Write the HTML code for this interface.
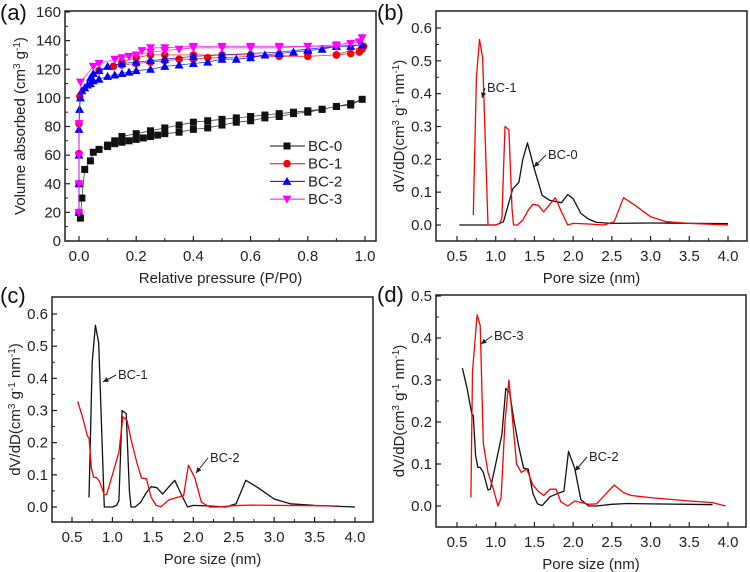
<!DOCTYPE html>
<html><head><meta charset="utf-8"><style>
body{margin:0;background:#fff}
svg{display:block;font-family:"Liberation Sans",sans-serif}
</style></head><body>
<svg id="c" width="750" height="572"></svg>
<script>
// ---- Panel (a) isotherm data ----
const bc0x=[0.005,0.01,0.02,0.04,0.05,0.07,0.1,0.125,0.15,0.175,0.2,0.225,0.25,0.275,0.3,0.35,0.4,0.45,0.5,0.55,0.6,0.65,0.7,0.75,0.8,0.85,0.9,0.95,0.99,0.95,0.9,0.85,0.8,0.75,0.7,0.65,0.6,0.55,0.5,0.45,0.4,0.35,0.3,0.25,0.2,0.15,0.125,0.1];
const bc0y=[16,30,50,56,62,64,66,68,69,70,71,72,73,74,75,76,78,79,81,83,84,86,87,89,90,92,94,96,99,95,94,92,91,90,89,88,87,86,85,84,83,81,79,77,75,73,70,67];
const bc1x=[0,0,0,0,0.003,0.07,0.12,0.15,0.2,0.25,0.3,0.35,0.4,0.45,0.5,0.6,0.7,0.8,0.9,0.95,0.98,0.99,0.995,0.9,0.8,0.7,0.6,0.5,0.4,0.3,0.25,0.2,0.15,0.12];
const bc1y=[20,40,61,82,101,119,122,123,124,125,126,127,127,128,128,129,129,129,130,131,132,134,136,130,129,129.5,130,130,130,130,130,128,125,122];
const bc2x=[0,0,0,0,0.002,0.005,0.01,0.02,0.03,0.04,0.05,0.07,0.1,0.125,0.15,0.175,0.2,0.25,0.3,0.35,0.4,0.45,0.5,0.55,0.6,0.65,0.7,0.75,0.8,0.85,0.9,0.95,0.99,0.9,0.8,0.7,0.6,0.5,0.4,0.3,0.25,0.2,0.15,0.1,0.07,0.05,0.04];
const bc2y=[20,40,60,78,92,100,105,107,109,110,112,113,115,116,117,118,119,120,122,123,124,125,127,127,128,130,131,132,133,134,136,136,137,136,134,132,131,130,129,127,126,125,124,122,119,117,114];
const bc3x=[0,0,0,0,0.005,0.05,0.07,0.125,0.15,0.175,0.2,0.25,0.3,0.35,0.4,0.5,0.6,0.7,0.8,0.9,0.95,0.98,0.99,0.9,0.8,0.7,0.6,0.5,0.4,0.3,0.25,0.22];
const bc3y=[20,40,60,82,111,122,124,127,128,129,130,132,133,134,135,135,135,135,136,137,138,139,142,136,136,136,136,136,136,135,135,133];
const aYTicks=[0,20,40,60,80,100,120,140,160];
const aXTicks=[0.0,0.2,0.4,0.6,0.8,1.0];
// ---- Pore size distributions ----
const pBC0x=[0.53,1.0,1.1,1.22,1.3,1.35,1.41,1.5,1.6,1.7,1.85,1.93,2.0,2.1,2.2,2.3,2.5,3.0,4.0];
const pBC0y=[0,0,0.01,0.11,0.13,0.2,0.25,0.17,0.09,0.075,0.068,0.093,0.08,0.035,0.018,0.008,0.005,0.006,0.004];
const pBC1x=[0.71,0.75,0.79,0.83,0.9,1.0,1.05,1.08,1.12,1.17,1.21,1.23,1.28,1.35,1.42,1.48,1.55,1.62,1.7,1.77,1.85,1.93,2.0,2.2,2.4,2.53,2.65,2.8,3.0,3.2,3.5,4.0];
const pBC1y=[0.03,0.45,0.565,0.51,0,0,0.005,0.02,0.3,0.29,0.05,0,0,0.015,0.045,0.063,0.06,0.04,0.063,0.083,0.04,0,0.005,0.003,0,0.01,0.083,0.06,0.025,0.01,0.005,0];
const pBC2x=[0.57,0.63,0.69,0.71,0.74,0.77,0.8,0.84,0.9,0.93,1.0,1.08,1.13,1.18,1.23,1.3,1.36,1.42,1.48,1.54,1.6,1.7,1.8,1.88,1.94,2.02,2.1,2.2,2.3,2.5,2.7,3.0,3.5,3.8];
const pBC2y=[0.328,0.28,0.22,0.215,0.12,0.092,0.092,0.08,0.038,0.04,0.1,0.17,0.28,0.27,0.21,0.14,0.09,0.088,0.03,0.005,0.001,0.022,0.03,0.035,0.13,0.09,0.015,0,0,0.004,0.006,0.005,0.004,0.003];
const pBC3x=[0.68,0.7,0.76,0.8,0.84,0.9,0.97,1.03,1.07,1.12,1.17,1.2,1.27,1.33,1.4,1.48,1.55,1.62,1.7,1.78,1.84,1.93,2.02,2.2,2.3,2.42,2.53,2.65,2.75,3.0,3.5,3.8,3.97];
const pBC3y=[0.02,0.32,0.455,0.43,0.15,0.08,0.04,0,0.02,0.2,0.3,0.24,0.1,0.08,0.088,0.05,0.035,0.025,0.04,0.04,0.01,0,0.012,0.004,0.005,0.028,0.05,0.032,0.025,0.02,0.012,0.008,0];
const poreXTicks=[0.5,1.0,1.5,2.0,2.5,3.0,3.5,4.0];
const psd6Ticks=[0.0,0.1,0.2,0.3,0.4,0.5,0.6];
const psd5Ticks=[0.0,0.1,0.2,0.3,0.4,0.5];

const NS='http://www.w3.org/2000/svg';
const svg=document.getElementById('c');
function el(tag,attrs,parent,text){const e=document.createElementNS(NS,tag);for(const k in attrs)e.setAttribute(k,attrs[k]);if(text!==undefined)e.textContent=text;(parent||svg).appendChild(e);return e;}
function lin(d0,d1,r0,r1){return v=>r0+(v-d0)*(r1-r0)/(d1-d0);}

function axes(g,box,sx,sy,xt,yt,xdec,ydec,minorX,minorY,xTitle,yTitleHTML,yTitleX,name){
  const r=el('rect',{x:box.l,y:box.t,width:box.r-box.l,height:box.b-box.t,fill:'none',stroke:'#222','stroke-width':1.5},g);
  
  xt.forEach((v,i)=>{const x=sx(v);
    el('line',{x1:x,x2:x,y1:box.b,y2:box.b-5,stroke:'#222','stroke-width':1.2},g);
    if(i<xt.length-1){const xm=sx(v+minorX);el('line',{x1:xm,x2:xm,y1:box.b,y2:box.b-3,stroke:'#222','stroke-width':1},g);}
    const t=el('text',{x:x,y:box.b+20,'text-anchor':'middle','font-size':15,fill:'#222'},g,v.toFixed(xdec));
    });
  yt.forEach((v,i)=>{const y=sy(v);
    el('line',{x1:box.l,x2:box.l+5,y1:y,y2:y,stroke:'#222','stroke-width':1.2},g);
    if(i<yt.length-1){const ym=sy(v+minorY);el('line',{x1:box.l,x2:box.l+3,y1:ym,y2:ym,stroke:'#222','stroke-width':1},g);}
    const t=el('text',{x:box.l-4,y:y+5,'text-anchor':'end','font-size':15,fill:'#222'},g,v.toFixed(ydec));
    });
  const xt2=el('text',{x:(box.l+box.r)/2,y:box.b+42,'text-anchor':'middle','font-size':15,fill:'#222'},g,xTitle);
  
  const cy=(box.t+box.b)/2;
  const yt2=el('text',{x:yTitleX,y:cy,'text-anchor':'middle','font-size':15,fill:'#222',transform:`rotate(-90 ${yTitleX} ${cy})`},g);
  yt2.innerHTML=yTitleHTML;
  
}
function line(g,xs,ys,sx,sy,color,w,name){
  const d=xs.map((x,i)=>(i?'L':'M')+sx(x).toFixed(1)+','+sy(ys[i]).toFixed(1)).join('');
  const p=el('path',{d:d,fill:'none',stroke:color,'stroke-width':w,'stroke-linejoin':'round'},g);
  return p;
}
function marker(g,type,x,y,color){
  let m;
  if(type==='sq')m=el('rect',{x:x-3.5,y:y-3.5,width:7,height:7,fill:color},g);
  else if(type==='ci')m=el('circle',{cx:x,cy:y,r:3.8,fill:color},g);
  else if(type==='up')m=el('polygon',{points:`${x},${y-4.5} ${x-4.5},${y+3.5} ${x+4.5},${y+3.5}`,fill:color},g);
  else m=el('polygon',{points:`${x},${y+4.5} ${x-4.5},${y-3.5} ${x+4.5},${y-3.5}`,fill:color},g);
  return m;
}
function label(g,txt,tx,ty,ax,ay,name){
  const t=el('text',{x:tx,y:ty,'font-size':13,fill:'#222'},g,txt);
  
  const sx=tx-2,sy=ty-4;
  el('line',{x1:sx,y1:sy,x2:ax,y2:ay,stroke:'#222','stroke-width':1},g);
  const ang=Math.atan2(ay-sy,ax-sx),L=6;
  const p1=[ax-L*Math.cos(ang-0.45),ay-L*Math.sin(ang-0.45)],p2=[ax-L*Math.cos(ang+0.45),ay-L*Math.sin(ang+0.45)];
  el('polygon',{points:`${ax},${ay} ${p1} ${p2}`,fill:'#222'},g);
}
function panelLabel(txt,x,y,name){const t=el('text',{x:x,y:y,'font-size':22,fill:'#111'},svg,txt);}

// Panel a
{const g=el('g',{});
 const box={l:65,t:11,r:376,b:241};
 const sx=lin(0,1,79,365),sy=lin(0,160,241,12);
 axes(g,box,sx,sy,aXTicks,aYTicks,1,0,0.1,10,'Relative pressure (P/P0)','Volume absorbed (cm<tspan baseline-shift="super" font-size="10">3</tspan> g<tspan baseline-shift="super" font-size="10">-1</tspan>)',25,'panel-a');
 const ser=[[bc0x,bc0y,'#111','sq','bc-0'],[bc1x,bc1y,'#f00','ci','bc-1'],[bc2x,bc2y,'#00f','up','bc-2'],[bc3x,bc3y,'#f0f','dn','bc-3']];
 ser.forEach(s=>{line(g,s[0],s[1],sx,sy,s[2],0.8,s[4]+'-isotherm-line').setAttribute('opacity','0.8');
   s[0].forEach((x,i)=>{const m=marker(g,s[3],sx(x),sy(s[1][i]),s[2]);
     });});
 ser.forEach((s,i)=>{const y=146+i*17.7;
   const lg=el('g',{},g);
   el('line',{x1:270,x2:305,y1:y,y2:y,stroke:s[2],'stroke-width':1},lg);marker(lg,s[3],287,y,s[2]);
   el('text',{x:308,y:y+5,'font-size':15,fill:'#222'},lg,s[4].toUpperCase());});
}
panelLabel('(a)',0,20,'panel-a-label');

// Panel b
{const g=el('g',{});
 const box={l:436,t:11,r:747,b:241};const sx=lin(0.5,4,457,728),sy=lin(0,0.6,225,28);
 axes(g,box,sx,sy,poreXTicks,psd6Ticks,1,1,0.25,0.05,'Pore size (nm)','dV/dD(cm<tspan baseline-shift="super" font-size="10">3</tspan> g<tspan baseline-shift="super" font-size="10">-1</tspan> nm<tspan baseline-shift="super" font-size="10">-1</tspan>)',404,'panel-b');
 line(g,pBC0x,pBC0y,sx,sy,'#111',1.3,'bc-0-psd-line');line(g,pBC1x,pBC1y,sx,sy,'#f00',1.3,'bc-1-psd-line');
 label(g,'BC-1',487,92,482,98,'bc-1-annotation');label(g,'BC-0',548,159,534,167,'bc-0-annotation');}
panelLabel('(b)',377,20,'panel-b-label');

// Panel c
{const g=el('g',{});
 const box={l:52,t:297,r:373,b:522};const sx=lin(0.5,4,72,355),sy=lin(0,0.6,507,314);
 axes(g,box,sx,sy,poreXTicks,psd6Ticks,1,1,0.25,0.05,'Pore size (nm)','dV/dD(cm<tspan baseline-shift="super" font-size="10">3</tspan> g<tspan baseline-shift="super" font-size="10">-1</tspan> nm<tspan baseline-shift="super" font-size="10">-1</tspan>)',20,'panel-c');
 line(g,pBC1x,pBC1y,sx,sy,'#111',1.3,'bc-1-psd-line');line(g,pBC2x,pBC2y,sx,sy,'#f00',1.3,'bc-2-psd-line');
 label(g,'BC-1',118,379,103,382,'bc-1-annotation');label(g,'BC-2',210,462,196,473,'bc-2-annotation');}
panelLabel('(c)',0,303,'panel-c-label');

// Panel d
{const g=el('g',{});
 const box={l:436,t:295,r:746,b:527};const sx=lin(0.5,4,457,728),sy=lin(0,0.5,506,296);
 axes(g,box,sx,sy,poreXTicks,psd5Ticks,1,1,0.25,0.05,'Pore size (nm)','dV/dD(cm<tspan baseline-shift="super" font-size="10">3</tspan> g<tspan baseline-shift="super" font-size="10">-1</tspan> nm<tspan baseline-shift="super" font-size="10">-1</tspan>)',404,'panel-d');
 line(g,pBC2x,pBC2y,sx,sy,'#111',1.3,'bc-2-psd-line');line(g,pBC3x,pBC3y,sx,sy,'#f00',1.3,'bc-3-psd-line');
 label(g,'BC-3',494,340,481,344,'bc-3-annotation');label(g,'BC-2',589,461,575,471,'bc-2-annotation');}
panelLabel('(d)',377,302,'panel-d-label');
</script>
</body></html>
